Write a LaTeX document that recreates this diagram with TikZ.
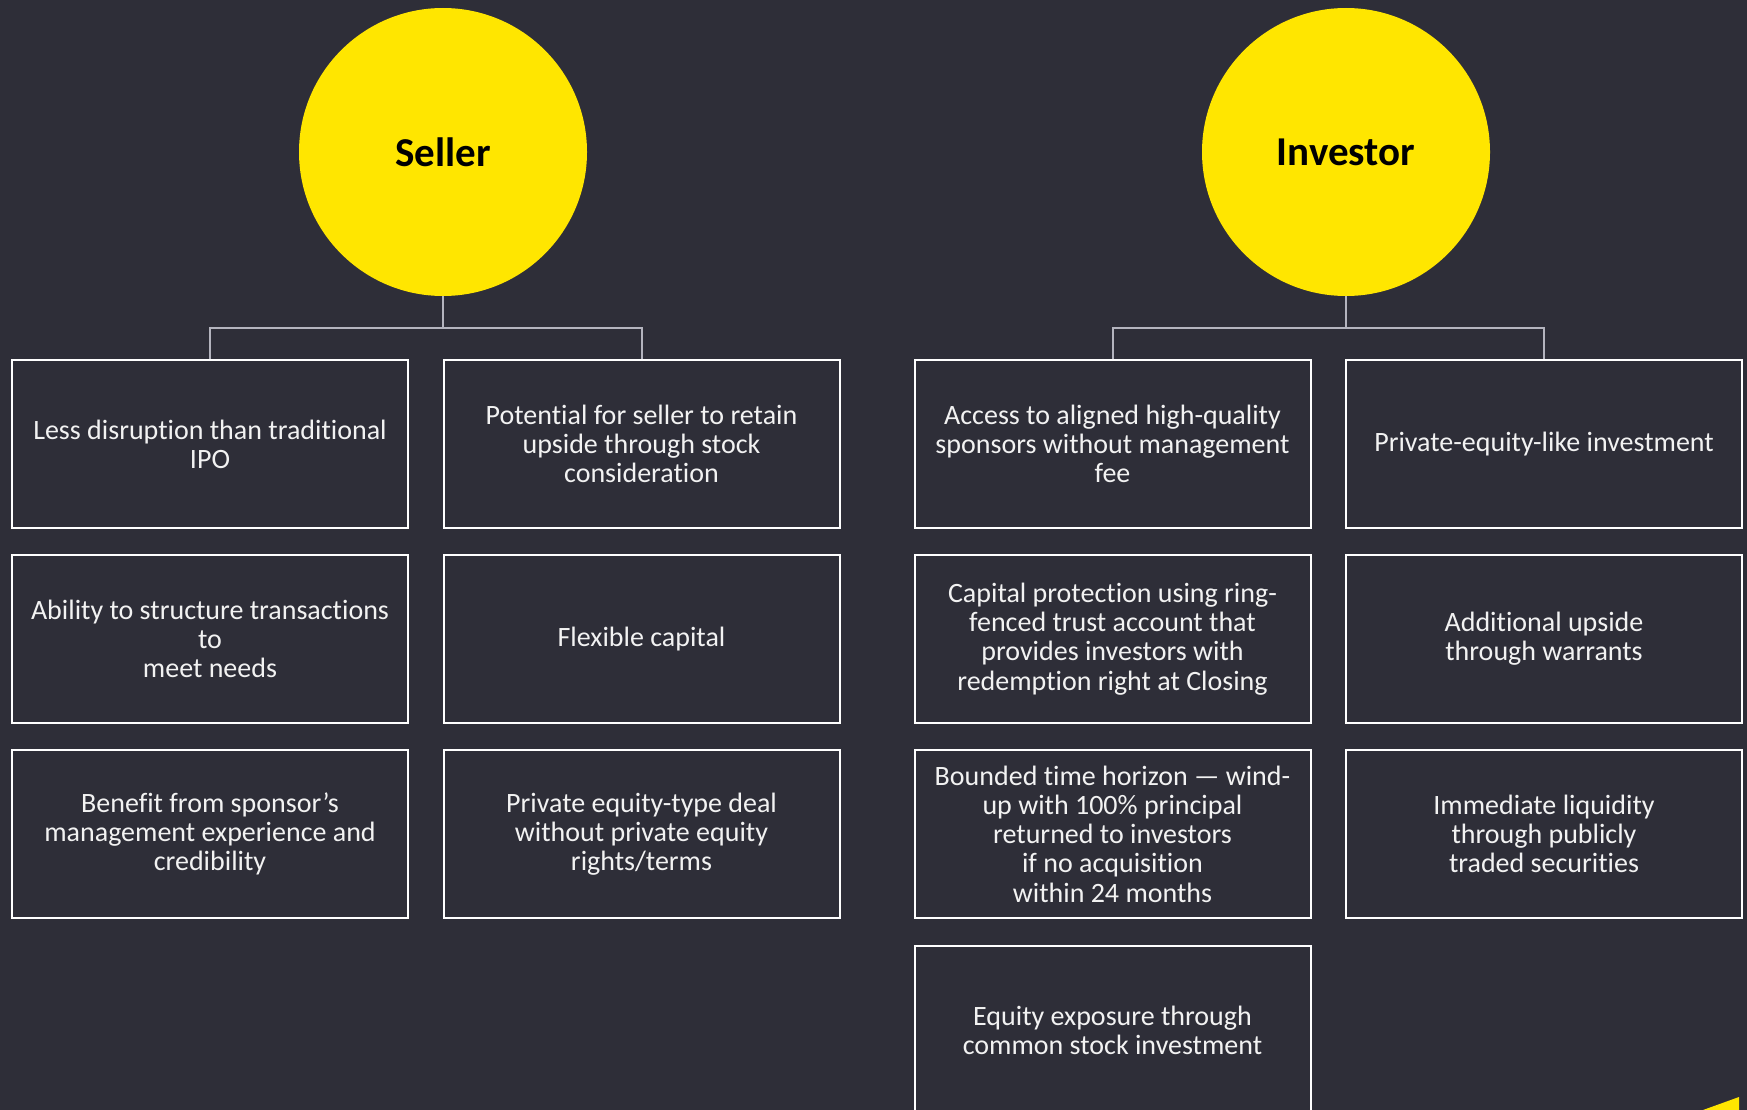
\documentclass[tikz,border=0pt]{standalone}
\usepackage{fontspec}
\setmainfont{Carlito}[RawFeature={-liga;-clig;-calt;-dlig}]
\definecolor{bg}{HTML}{2E2E38}
\definecolor{eyyellow}{HTML}{FFE600}
\definecolor{linkgrey}{HTML}{B4B4BE}
\begin{document}
\begin{tikzpicture}[x=1pt,y=-1pt,
  hub/.style={circle,fill=eyyellow,draw=none,minimum size=288pt,inner sep=0pt,
    text=black,font=\fontsize{41}{45}\selectfont\bfseries},
  card/.style={rectangle,draw=white,line width=2pt,minimum width=396pt,
    minimum height=168pt,inner sep=0pt,align=center,text=white!95!black,
    font=\fontsize{28}{29.2}\selectfont},
  conn/.style={draw=linkgrey,line width=2pt}]
\fill[bg] (0,0) rectangle (1747,1110);
\clip (0,0) rectangle (1747,1110);

% party circles
\node[hub] (seller) at (443,152) {Seller};
\node[hub] (investor) at (1346,152) {Investor};

% seller benefits
\node[card] (a1) at (210,444) {Less disruption than traditional\\IPO};
\node[card] (a2) at (641.5,444) {Potential for seller to retain\\upside through stock\\consideration};
\node[card] (a3) at (210,639) {Ability to structure transactions\\to\\meet needs};
\node[card] (a4) at (641.5,639) {Flexible capital};
\node[card] (a5) at (210,834) {Benefit from sponsor’s\\management experience and\\credibility};
\node[card] (a6) at (641.5,834) {Private equity-type deal\\without private equity\\rights/terms};

% investor benefits
\node[card] (b1) at (1112.5,444) {Access to aligned high-quality\\sponsors without management\\fee};
\node[card] (b2) at (1544,444) {Private-equity-like investment};
\node[card] (b3) at (1112.5,639) {Capital protection using ring-\\fenced trust account that\\provides investors with\\redemption right at Closing};
\node[card] (b4) at (1544,639) {Additional upside\\through warrants};
\node[card] (b5) at (1112.5,834) {Bounded time horizon — wind-\\up with 100\% principal\\returned to investors\\if no acquisition\\within 24 months};
\node[card] (b6) at (1544,834) {Immediate liquidity\\through publicly\\traded securities};
\node[card] (b7) at (1112.5,1030) {Equity exposure through\\common stock investment};

% tree connectors
\coordinate (sj) at (443,328);
\coordinate (ij) at (1346,328);
\draw[conn] (seller.south) -- (sj);
\draw[conn] (a1.north) |- (sj) -| (a2.north);
\draw[conn] (investor.south) -- (ij);
\draw[conn] (b1.north) |- (ij) -| (b2.north);

% corner accent
\fill[eyyellow] (1703,1110) -- (1739,1097) -- (1739,1110) -- cycle;
\end{tikzpicture}
\end{document}
